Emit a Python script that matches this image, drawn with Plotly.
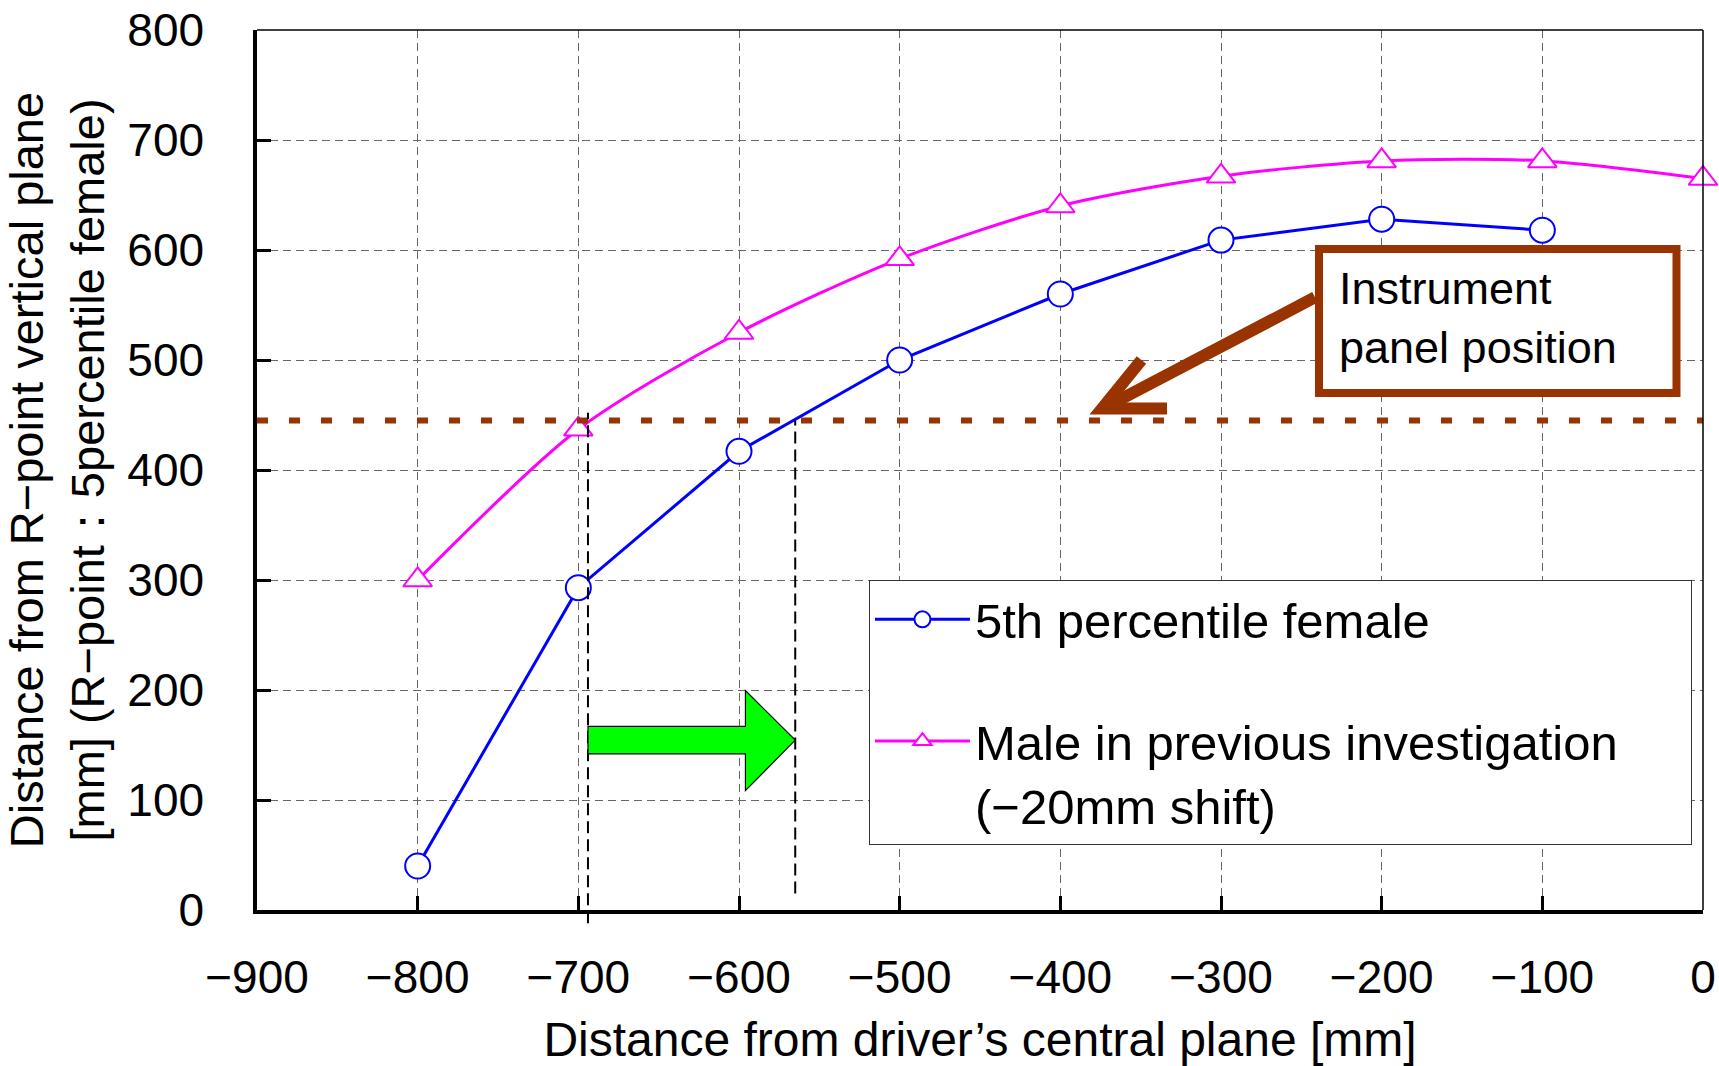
import plotly.graph_objects as go

# ---- data ----
x_female = [-800, -700, -600, -500, -400, -300, -200, -100]
y_female = [40, 293, 417, 500, 560, 609, 628, 618]
x_male = [-800, -700, -600, -500, -400, -300, -200, -100, 0]
y_male = [300, 437, 525, 592, 640, 667, 681, 681, 665]
panel_y = 445
cross_male_x = -694
cross_female_x = -565
x_ticks = [-900, -800, -700, -600, -500, -400, -300, -200, -100, 0]
y_ticks = [0, 100, 200, 300, 400, 500, 600, 700, 800]

FONT = "Liberation Sans, Arial, sans-serif"
BROWN = "#993300"

fig = go.Figure()
fig.add_trace(go.Scatter(
    x=x_female, y=y_female, mode="lines+markers",
    name="5th percentile female", legendgroup="a",
    line=dict(color="#0000FF", width=3),
    marker=dict(symbol="circle", size=25, color="white",
                line=dict(color="#0000FF", width=2)),
    cliponaxis=False))
fig.add_trace(go.Scatter(
    x=x_male, y=y_male, mode="lines+markers",
    name="Male in previous investigation&nbsp;&nbsp;&nbsp;&nbsp;&nbsp;<br>(−20mm shift)", legendgroup="b",
    line=dict(color="#FF00FF", width=3, shape="spline", smoothing=0.8),
    marker=dict(symbol="triangle-up", size=25, color="white",
                line=dict(color="#FF00FF", width=2)),
    cliponaxis=False))

shapes = []
# panel position dotted line
shapes.append(dict(type="line", xref="x", yref="y", x0=-900, x1=0, y0=panel_y, y1=panel_y,
                   line=dict(color=BROWN, width=6, dash="11px,21px"), layer="above"))
# vertical dashed lines
shapes.append(dict(type="line", xref="x", yref="paper", x0=cross_male_x, x1=cross_male_x,
                   y0=-0.015, y1=452 / 800, line=dict(color="black", width=2, dash="12px,6px")))
shapes.append(dict(type="line", xref="x", yref="y", x0=cross_female_x, x1=cross_female_x,
                   y0=15, y1=panel_y, line=dict(color="black", width=2, dash="12px,6px")))
# green arrow
gx0, gxh, gxt = cross_male_x, -596, cross_female_x
shapes.append(dict(type="path", xref="x", yref="y",
                   path=f"M{gx0},142 L{gxh},142 L{gxh},108.5 L{gxt},154.5 L{gxh},199.5 L{gxh},167 L{gx0},167 Z",
                   fillcolor="#00FF00", line=dict(color="black", width=1.2), layer="above"))
# brown arrow
shapes.append(dict(type="path", xref="x", yref="y",
                   path="M-241.5,557 L-372,457", line=dict(color=BROWN, width=12), layer="above"))
shapes.append(dict(type="path", xref="x", yref="y",
                   path="M-349.5,500 L-374,456 L-333.6,456", line=dict(color=BROWN, width=12), layer="above"))
# annotation box
shapes.append(dict(type="rect", xref="x", yref="y", x0=-239, x1=-16.5, y0=470, y1=601,
                   fillcolor="white", line=dict(color=BROWN, width=8), layer="above"))
# top & right frame
shapes.append(dict(type="line", xref="paper", yref="paper", x0=0, x1=1, y0=1, y1=1,
                   line=dict(color="black", width=1.5)))
shapes.append(dict(type="line", xref="paper", yref="paper", x0=1, x1=1, y0=0, y1=1,
                   line=dict(color="black", width=1.5)))

fig.update_layout(
    template="none",
    width=1719, height=1066,
    margin=dict(l=257, r=16, t=30, b=156, autoexpand=False),
    paper_bgcolor="white", plot_bgcolor="white",
    font=dict(family=FONT, size=46, color="black"),
    shapes=shapes,
    annotations=[dict(x=-228, y=538.5, xref="x", yref="y", xanchor="left", yanchor="middle",
                      align="left", showarrow=False, text="Instrument<br>panel position",
                      font=dict(family=FONT, size=45, color="black"))],
    legend=dict(x=0.4232, y=0.375, xanchor="left", yanchor="top",
                bgcolor="white", bordercolor="#333", borderwidth=1,
                font=dict(family=FONT, size=49, color="black"),
                tracegroupgap=55, valign="top", itemwidth=95),
    showlegend=True,
)
fig.update_xaxes(range=[-900, 0], tickvals=x_ticks, showgrid=True, automargin=False,
                 gridcolor="#666", griddash="8px,5px", gridwidth=1.3,
                 showline=True, linecolor="black", linewidth=3.5,
                 ticks="inside", ticklen=14, tickwidth=3, tickcolor="black",
                 ticklabelstandoff=24, ticklabeloverflow="allow", zeroline=False,
                 title=dict(text="Distance from driver’s central plane [mm]", standoff=30,
                            font=dict(size=48)))
fig.update_yaxes(range=[0, 800], tickvals=y_ticks, showgrid=True, automargin=False,
                 gridcolor="#666", griddash="8px,5px", gridwidth=1.3,
                 showline=True, linecolor="black", linewidth=3.5,
                 ticks="inside", ticklen=14, tickwidth=3, tickcolor="black",
                 ticklabelstandoff=40, ticklabeloverflow="allow", zeroline=False,
                 title=dict(text="Distance from R−point vertical plane<br>[mm] (R−point：5percentile female)",
                            standoff=23, font=dict(size=47)))

fig.write_html("out.html", config={"displayModeBar": False},
               post_script="document.body.style.margin='0';document.body.style.overflow='hidden';")
